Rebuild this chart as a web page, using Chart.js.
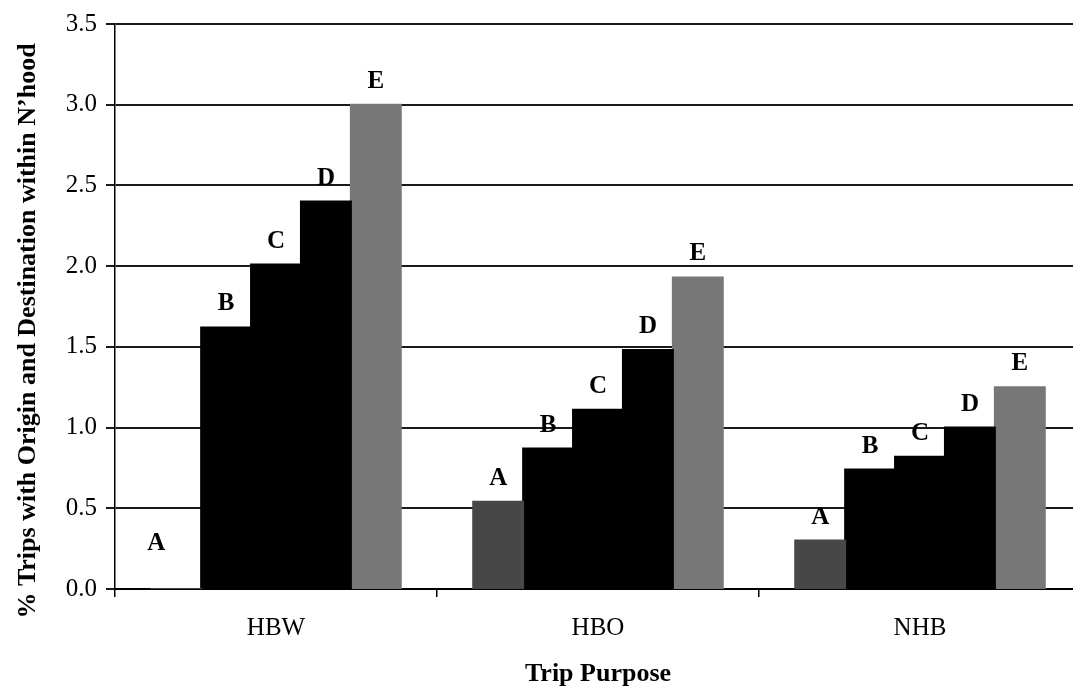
<!DOCTYPE html>
<html>
<head>
<meta charset="utf-8">
<title>Trips with origin and destination within neighbourhood</title>
<script src="https://cdn.jsdelivr.net/npm/chart.js@4.4.1/dist/chart.umd.min.js"></script>
<style>
  html, body { margin: 0; padding: 0; background: #fff; overflow: hidden; }
  #wrap { width: 1090px; height: 687px; }
</style>
</head>
<body>
<div id="wrap"><canvas id="tripChart" width="1090" height="687"></canvas></div>
<script>
// trip purposes on the x axis, one bar per neighbourhood type A..E
const purposes = ["HBW", "HBO", "NHB"];
const hoodA = [0.00, 0.54, 0.30];
const hoodB = [1.62, 0.87, 0.74];
const hoodC = [2.01, 1.11, 0.82];
const hoodD = [2.40, 1.48, 1.00];
const hoodE = [3.00, 1.93, 1.25];
const yTicks = [0, 0.5, 1.0, 1.5, 2.0, 2.5, 3.0, 3.5];

const yAxisTitle = "% Trips with Origin and Destination within N\u2019hood";
const xAxisTitle = "Trip Purpose";
const SERIF = '"Liberation Serif", "Times New Roman", serif';

const datasets = [
  { label: "A", data: hoodA, backgroundColor: "#474747" },
  { label: "B", data: hoodB, backgroundColor: "#000000" },
  { label: "C", data: hoodC, backgroundColor: "#000000" },
  { label: "D", data: hoodD, backgroundColor: "#000000" },
  { label: "E", data: hoodE, backgroundColor: "#777777" }
];

// letter above each bar; the empty HBW "A" bar gets its letter pushed left/up
const barLetters = {
  id: "barLetters",
  afterDatasetsDraw(chart) {
    const ctx = chart.ctx;
    ctx.save();
    ctx.font = "bold 25px " + SERIF;
    ctx.fillStyle = "#000";
    ctx.textAlign = "center";
    ctx.textBaseline = "alphabetic";
    chart.data.datasets.forEach((ds, i) => {
      chart.getDatasetMeta(i).data.forEach((bar, j) => {
        let x = bar.x, y = bar.y - 17;
        if (ds.data[j] === 0) { x -= 20; y -= 22; }
        ctx.fillText(ds.label, x, y);
      });
    });
    ctx.restore();
  }
};

// rotated y title, drawn by hand so it can sit a bit below the plot centre
const yTitle = {
  id: "yTitle",
  afterDraw(chart) {
    const ctx = chart.ctx;
    ctx.save();
    ctx.translate(35, 331);
    ctx.rotate(-Math.PI / 2);
    ctx.font = "bold 26px " + SERIF;
    ctx.fillStyle = "#000";
    ctx.textAlign = "center";
    ctx.textBaseline = "alphabetic";
    ctx.fillText(yAxisTitle, 0, 0);
    ctx.restore();
  }
};

new Chart(document.getElementById("tripChart"), {
  type: "bar",
  data: { labels: purposes, datasets: datasets },
  options: {
    responsive: false,
    animation: false,
    devicePixelRatio: 1,
    layout: { padding: { top: 18, right: 9, left: 0, bottom: 0 } },
    datasets: { bar: { barPercentage: 1.0, categoryPercentage: 0.775, inflateAmount: 1 } },
    plugins: { legend: { display: false }, tooltip: { enabled: false } },
    scales: {
      x: {
        offset: true,
        grid: { offset: true, drawOnChartArea: false, color: "#000", lineWidth: 1.5, tickLength: 8 },
        border: { display: true, color: "#000", width: 2 },
        ticks: { color: "#000", font: { family: SERIF, size: 25 }, padding: 16, maxRotation: 0 },
        title: {
          display: true, text: xAxisTitle, color: "#000",
          font: { family: SERIF, size: 26, weight: "bold" },
          padding: { top: 0, bottom: -3 }
        },
        afterFit(scale) { scale.height = 98; }
      },
      y: {
        min: 0,
        max: 3.5,
        afterBuildTicks(scale) { scale.ticks = yTicks.map(v => ({ value: v })); },
        ticks: {
          color: "#000",
          font: { family: SERIF, size: 25 },
          padding: 9,
          callback: v => Number(v).toFixed(1)
        },
        grid: { color: "#1a1a1a", lineWidth: 2, tickLength: 9 },
        border: { display: true, color: "#000", width: 1.5 },
        afterFit(scale) { scale.width = 115; }
      }
    }
  },
  plugins: [barLetters, yTitle]
});
</script>
</body>
</html>
